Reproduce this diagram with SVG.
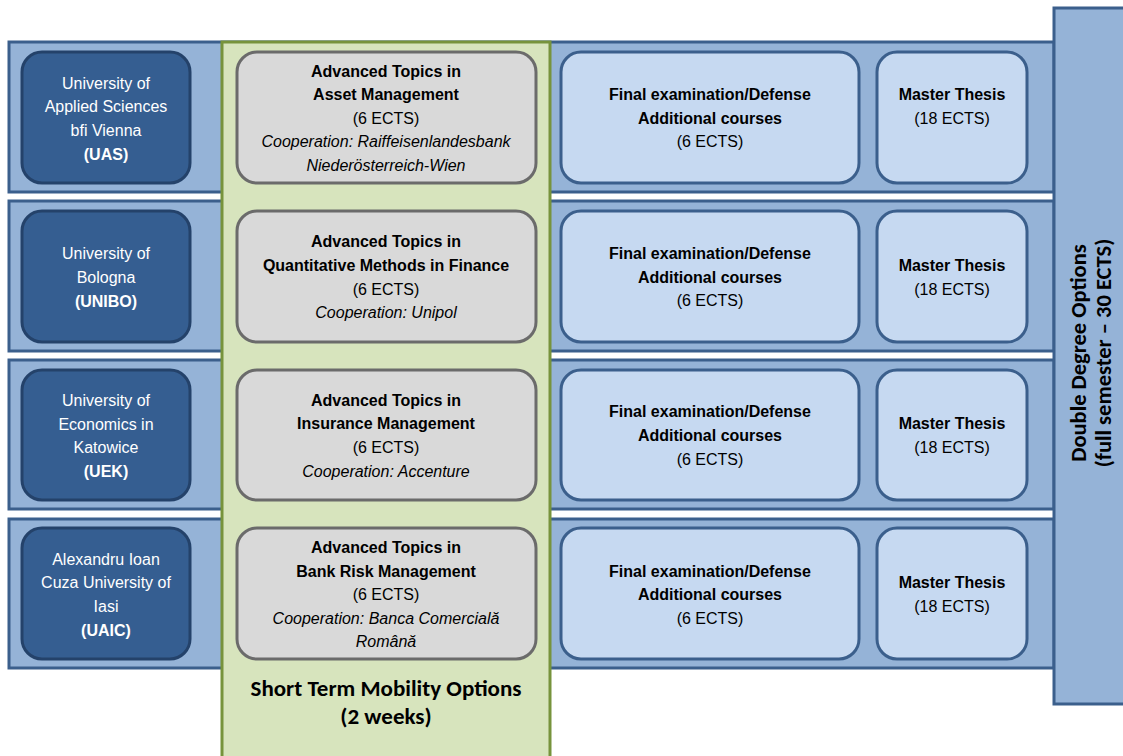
<svg xmlns="http://www.w3.org/2000/svg" width="1123" height="756" viewBox="0 0 1123 756">
<style>
.band{fill:#95B3D7;stroke:#3B5F8C;stroke-width:3}
.green{fill:#D7E4BD;stroke:#77933C;stroke-width:3}
.uni{fill:#355E91;stroke:#24426A;stroke-width:3}
.gray{fill:#D9D9D9;stroke:#6B6B6B;stroke-width:3}
.light{fill:#C6D9F1;stroke:#3B5F8C;stroke-width:3}
text{font-family:"Liberation Sans",Arial,sans-serif;font-size:16px;text-anchor:middle;fill:#000}
.w{fill:#FFFFFF}
.b{font-weight:bold}
.i{font-style:italic}
.cal{font-family:Carlito,Calibri,Lato,"Open Sans",sans-serif;font-weight:bold;font-size:23px}
.vt{font-size:22.5px}
</style>
<g id="bands">
<rect class="band" x="9" y="42" width="1045" height="150"/>
<rect class="band" x="9" y="201" width="1045" height="150"/>
<rect class="band" x="9" y="360" width="1045" height="149"/>
<rect class="band" x="9" y="519" width="1045" height="149"/>
</g>
<g id="double-degree">
<rect class="band" x="1054" y="8" width="80" height="696"/>
<text class="cal vt" transform="translate(1086,353) rotate(-90)">Double Degree Options</text>
<text class="cal vt" transform="translate(1111,353) rotate(-90)">(full semester – 30 ECTS)</text>
</g>
<g id="short-term">
<rect class="green" x="222" y="42" width="328" height="720"/>
<text class="cal" x="386" y="696">Short Term Mobility Options</text>
<text class="cal" x="386" y="724">(2 weeks)</text>
</g>
<g id="uas">
<rect class="uni" x="22" y="52" width="168" height="131" rx="20"/>
<text class="w" x="106" y="89">University  of</text>
<text class="w" x="106" y="112">Applied  Sciences</text>
<text class="w" x="106" y="136">bfi Vienna</text>
<text class="w b" x="106" y="160">(UAS)</text>
</g>
<g id="asset">
<rect class="gray" x="237" y="52" width="299" height="131" rx="20"/>
<text class="b" x="386" y="77">Advanced Topics in</text>
<text class="b" x="386" y="100">Asset Management</text>
<text x="386" y="124">(6 ECTS)</text>
<text class="i" x="386" y="147">Cooperation:  Raiffeisenlandesbank</text>
<text class="i" x="386" y="171">Niederösterreich-Wien</text>
</g>
<g id="final1">
<rect class="light" x="561" y="52" width="298" height="131" rx="20"/>
<text class="b" x="710" y="100">Final examination/Defense</text>
<text class="b" x="710" y="124">Additional courses</text>
<text x="710" y="147">(6 ECTS)</text>
</g>
<g id="thesis1">
<rect class="light" x="877" y="52" width="150" height="131" rx="20"/>
<text class="b" x="952" y="100">Master Thesis</text>
<text x="952" y="124">(18 ECTS)</text>
</g>
<g id="unibo">
<rect class="uni" x="22" y="211" width="168" height="131" rx="20"/>
<text class="w" x="106" y="259">University  of</text>
<text class="w" x="106" y="283">Bologna</text>
<text class="w b" x="106" y="307">(UNIBO)</text>
</g>
<g id="quant">
<rect class="gray" x="237" y="211" width="299" height="131" rx="20"/>
<text class="b" x="386" y="247">Advanced Topics in</text>
<text class="b" x="386" y="271">Quantitative Methods in Finance</text>
<text x="386" y="295">(6 ECTS)</text>
<text class="i" x="386" y="318">Cooperation:  Unipol</text>
</g>
<g id="final2">
<rect class="light" x="561" y="211" width="298" height="131" rx="20"/>
<text class="b" x="710" y="259">Final examination/Defense</text>
<text class="b" x="710" y="283">Additional courses</text>
<text x="710" y="306">(6 ECTS)</text>
</g>
<g id="thesis2">
<rect class="light" x="877" y="211" width="150" height="131" rx="20"/>
<text class="b" x="952" y="271">Master Thesis</text>
<text x="952" y="295">(18 ECTS)</text>
</g>
<g id="uek">
<rect class="uni" x="22" y="370" width="168" height="130" rx="20"/>
<text class="w" x="106" y="406">University  of</text>
<text class="w" x="106" y="430">Economics  in</text>
<text class="w" x="106" y="453">Katowice</text>
<text class="w b" x="106" y="477">(UEK)</text>
</g>
<g id="insurance">
<rect class="gray" x="237" y="370" width="299" height="130" rx="20"/>
<text class="b" x="386" y="406">Advanced Topics in</text>
<text class="b" x="386" y="429">Insurance Management</text>
<text x="386" y="453">(6 ECTS)</text>
<text class="i" x="386" y="477">Cooperation:  Accenture</text>
</g>
<g id="final3">
<rect class="light" x="561" y="370" width="298" height="130" rx="20"/>
<text class="b" x="710" y="417">Final examination/Defense</text>
<text class="b" x="710" y="441">Additional courses</text>
<text x="710" y="465">(6 ECTS)</text>
</g>
<g id="thesis3">
<rect class="light" x="877" y="370" width="150" height="130" rx="20"/>
<text class="b" x="952" y="429">Master Thesis</text>
<text x="952" y="453">(18 ECTS)</text>
</g>
<g id="uaic">
<rect class="uni" x="22" y="528" width="168" height="131" rx="20"/>
<text class="w" x="106" y="565">Alexandru  Ioan</text>
<text class="w" x="106" y="588">Cuza University  of</text>
<text class="w" x="106" y="612">Iasi</text>
<text class="w b" x="106" y="636">(UAIC)</text>
</g>
<g id="bank">
<rect class="gray" x="237" y="528" width="299" height="131" rx="20"/>
<text class="b" x="386" y="553">Advanced Topics in</text>
<text class="b" x="386" y="577">Bank Risk Management</text>
<text x="386" y="600">(6 ECTS)</text>
<text class="i" x="386" y="624">Cooperation:  Banca Comercială</text>
<text class="i" x="386" y="647">Română</text>
</g>
<g id="final4">
<rect class="light" x="561" y="528" width="298" height="131" rx="20"/>
<text class="b" x="710" y="577">Final examination/Defense</text>
<text class="b" x="710" y="600">Additional courses</text>
<text x="710" y="624">(6 ECTS)</text>
</g>
<g id="thesis4">
<rect class="light" x="877" y="528" width="150" height="131" rx="20"/>
<text class="b" x="952" y="588">Master Thesis</text>
<text x="952" y="612">(18 ECTS)</text>
</g>
<g id="connectors"></g>
</svg>
